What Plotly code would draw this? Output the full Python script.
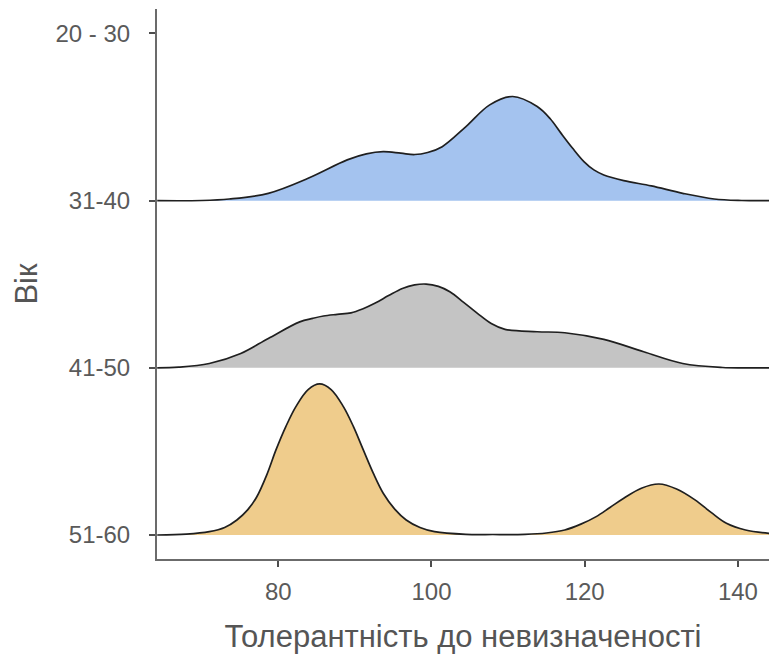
import plotly.graph_objects as go

# Category labels (bottom to top, positions 0..3)
age_labels = ["51-60", "41-50", "31-40", "20 - 30"]
x_ticks = [80, 100, 120, 140]

# Ridge 1 (blue) sits on "31-40"
blue_x = [64.2, 70.0, 73.6, 78.7, 83.9, 89.0, 91.5, 93.7, 96.0, 97.8, 99.5, 101.4, 104.5, 107.6,
          110.6, 113.8, 115.5, 116.9, 118.4, 119.9, 121.2, 122.5, 125.1, 128.7, 132.8, 136.9,
          140.5, 144.1]
blue_h = [0.0, 0.001, 0.010, 0.044, 0.134, 0.244, 0.280, 0.293, 0.284, 0.276, 0.288, 0.323, 0.443,
          0.573, 0.623, 0.563, 0.490, 0.404, 0.315, 0.234, 0.184, 0.154, 0.120, 0.088, 0.044,
          0.010, 0.001, 0.0]

# Ridge 2 (grey) sits on "41-50"
grey_x = [64.2, 67.0, 71.0, 75.1, 78.7, 82.8, 84.5, 85.9, 87.7, 89.5, 91.0, 92.6, 94.4, 96.2,
          97.8, 99.3, 100.9, 102.4, 104.2, 106.0, 107.8, 109.6, 113.8, 117.4, 122.5, 127.7,
          132.8, 138.0, 141.0, 144.1]
grey_h = [0.0, 0.004, 0.026, 0.086, 0.176, 0.275, 0.296, 0.310, 0.320, 0.329, 0.352, 0.386, 0.432,
          0.475, 0.496, 0.501, 0.487, 0.455, 0.392, 0.326, 0.265, 0.230, 0.216, 0.210, 0.170,
          0.096, 0.026, 0.002, 0.0, 0.0]

# Ridge 3 (orange) sits on "51-60"
orange_x = [64.2, 68.0, 71.0, 73.0, 74.6, 76.0, 77.2, 78.5, 79.7, 81.0, 82.3, 83.9, 85.4, 86.9,
            88.5, 89.8, 91.1, 92.4, 93.7, 95.2, 96.7, 98.5, 100.4, 104.5, 108.0, 112.2, 115.0,
            117.4, 119.5, 121.5, 123.3, 125.1, 127.4, 129.7, 132.0, 134.4, 136.5, 138.5, 141.0,
            144.1]
orange_h = [0.0, 0.005, 0.020, 0.045, 0.090, 0.150, 0.229, 0.360, 0.509, 0.650, 0.768, 0.870,
            0.904, 0.870, 0.768, 0.650, 0.509, 0.370, 0.250, 0.155, 0.090, 0.045, 0.020, 0.004,
            0.003, 0.004, 0.012, 0.030, 0.065, 0.110, 0.165, 0.220, 0.280, 0.305, 0.275, 0.210,
            0.135, 0.070, 0.030, 0.010]

ridges = [
    (2, blue_x, blue_h, "#A4C3EF"),
    (1, grey_x, grey_h, "#C4C4C4"),
    (0, orange_x, orange_h, "#EFCC8C"),
]

X_MIN, X_MAX = 64.17, 144.06

fig = go.Figure()
for base, xs, hs, col in ridges:
    fig.add_trace(go.Scatter(x=[X_MIN, X_MAX], y=[base, base], mode="lines",
                             line=dict(width=0, color=col), hoverinfo="skip", showlegend=False))
    fig.add_trace(go.Scatter(x=xs, y=[base + h for h in hs], mode="lines",
                             line=dict(color="#1f1f1f", width=1.7, shape="spline", smoothing=1.0),
                             fill="tonexty", fillcolor=col, hoverinfo="skip", showlegend=False))

fig.update_layout(
    width=769, height=657,
    margin=dict(l=157, r=0, t=9, b=98),
    paper_bgcolor="white", plot_bgcolor="white",
    font=dict(family="Liberation Sans, Arial, sans-serif", color="#555555"),
    xaxis=dict(range=[X_MIN, X_MAX], tickvals=x_ticks, ticktext=[str(v) for v in x_ticks],
               showgrid=False, zeroline=False, showline=True, linecolor="#6b6b6b", linewidth=2,
               ticks="outside", ticklen=6, tickwidth=2, tickcolor="#4d4d4d",
               tickfont=dict(size=24, color="#5a5a5a"), ticklabelstandoff=4,
               title=dict(text="Толерантність до невизначеності", font=dict(size=31, color="#555555"),
                          standoff=22)),
    yaxis=dict(range=[-0.1435, 3.1465], tickvals=[0, 1, 2, 3], ticktext=age_labels,
               showgrid=False, zeroline=False, showline=True, linecolor="#6b6b6b", linewidth=2,
               ticks="outside", ticklen=6, tickwidth=2, tickcolor="#4d4d4d",
               tickfont=dict(size=24, color="#5a5a5a"), ticklabelstandoff=14,
               title=dict(text="Вік", font=dict(size=31, color="#555555"), standoff=9)),
)

fig.write_html("out.html")
